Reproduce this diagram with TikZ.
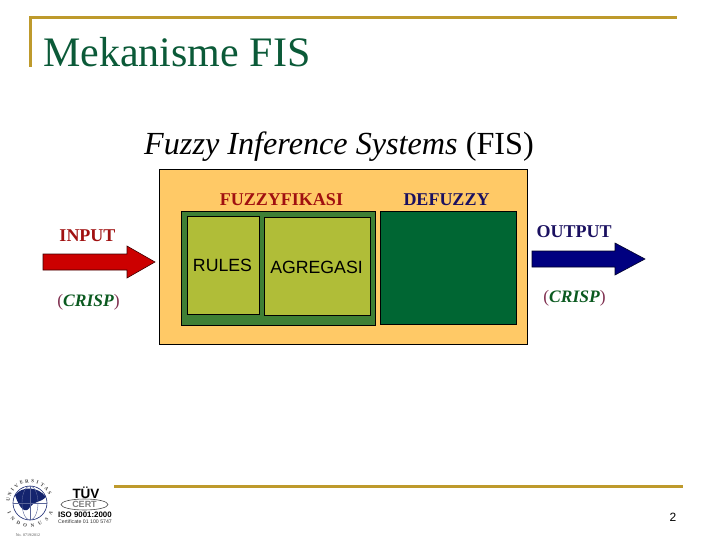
\documentclass[tikz,border=0pt]{standalone}
\usepackage{fontspec}
\usetikzlibrary{calc}
\setmainfont{Liberation Serif}
\newfontfamily\arialf{Liberation Sans}
\definecolor{gold}{HTML}{BE9A2C}
\definecolor{titleg}{HTML}{0B5A38}
\definecolor{orangebox}{HTML}{FFC966}
\definecolor{midgreen}{HTML}{3F7F35}
\definecolor{olive}{HTML}{B0BD38}
\definecolor{deepgreen}{HTML}{006633}
\definecolor{redarrow}{HTML}{CC0000}
\definecolor{navyarrow}{HTML}{000080}
\definecolor{redtext}{HTML}{A01010}
\definecolor{navytext}{HTML}{1A1060}
\definecolor{crispg}{HTML}{0B5A20}
\definecolor{paren}{HTML}{803050}
\definecolor{globe}{HTML}{14246E}
\tikzset{
  px/.style={x=1pt,y=-1pt},
  goldline/.style={gold,line width=3pt},
  panel/.style={draw=black,line width=0.8pt,inner sep=0pt,anchor=north west},
  lbl/.style={inner sep=0pt,anchor=center},
  logoletter/.style={inner sep=0pt,font=\bfseries\fontsize{5}{5}\selectfont,text=black!75},
}
\newcommand{\crisp}{{\color{paren}(}\textcolor{crispg}{\textit{\textbf{CRISP}}}{\color{paren})}}
\begin{document}
\begin{tikzpicture}[px]
\useasboundingbox (0,0) rectangle (720,540);
% frame lines
\coordinate (tl) at (30,18); \coordinate (tr) at (677,18); \coordinate (lb) at (30,67);
\draw[goldline,line cap=butt] (lb) -- (tl) -- (tr);
\coordinate (bl) at (114,486); \coordinate (br) at (683,486);
\draw[goldline] (bl) -- (br);
% titles
\node[lbl,anchor=west,text=titleg,font=\fontsize{42}{46}\selectfont] (title) at (43,52) {Mekanisme FIS};
\node[lbl,anchor=west,font=\fontsize{32.2}{36}\selectfont] (sub) at (144,146.5) {\textit{Fuzzy Inference Systems} (FIS)};
% panels
\node[panel,fill=orangebox,minimum width=368pt,minimum height=175pt] (outer) at (159,169) {};
\node[panel,fill=midgreen,minimum width=194pt,minimum height=113.5pt] (fuzz) at (181,211) {};
\node[panel,fill=olive,minimum width=72pt,minimum height=98pt] (rules) at (187,216) {};
\node[panel,fill=olive,minimum width=106pt,minimum height=97.5pt] (agr) at (264,217.5) {};
\node[panel,fill=deepgreen,minimum width=136pt,minimum height=112.5pt] (defz) at (380,211) {};
% panel labels
\node[lbl,text=redtext,font=\fontsize{18}{20}\selectfont\bfseries] (lf) at (281.5,199.5) {FUZZYFIKASI};
\node[lbl,text=navytext,font=\fontsize{18}{20}\selectfont\bfseries] (ld) at (446.5,200) {DEFUZZY};
\node[lbl,font=\arialf\fontsize{17.7}{20}\selectfont] (lr) at (222.5,265.5) {RULES};
\node[lbl,font=\arialf\fontsize{17.7}{20}\selectfont] (la) at (316.5,267) {AGREGASI};
% arrows
\draw[fill=redarrow,draw=black!70!redarrow,line width=0.6pt] (43,254) -- (127,254) -- (127,246) -- (155,262) -- (127,278) -- (127,270) -- (43,270) -- cycle;
\draw[fill=navyarrow,draw=black!70!navyarrow,line width=0.6pt] (532,251) -- (615,251) -- (615,243) -- (645,259) -- (615,275) -- (615,267) -- (532,267) -- cycle;
% side labels
\node[lbl,text=redtext,font=\fontsize{18}{20}\selectfont\bfseries] (in) at (87.5,235.5) {INPUT};
\node[lbl,font=\fontsize{17.5}{20}\selectfont] (cin) at (88.5,302) {\crisp};
\node[lbl,text=navytext,font=\fontsize{18}{20}\selectfont\bfseries] (out) at (574,232) {OUTPUT};
\node[lbl,font=\fontsize{17.5}{20}\selectfont] (cout) at (574.5,298) {\crisp};
% page number
\node[lbl,font=\arialf\fontsize{12}{14}\selectfont] (pg) at (673,517) {2};
% university logo
\coordinate (g) at (30,503);
\draw[globe,line width=0.6pt] (g) circle (17);
\fill[globe] (15,495) .. controls (22,486) and (38,486) .. (46,497) .. controls (40,503) and (34,501) .. (30,507) .. controls (26,514) and (20,510) .. (15,495) -- cycle;
\draw[globe!70,line width=0.4pt] (13,503) -- (47,503) (30,486) -- (30,520);
\draw[globe!70,line width=0.4pt] (30,503) ellipse (8 and 17);
\foreach \c/\a in {U/172,N/157,I/143,V/128,E/113,R/98,S/83,I/70,T/56,A/41,S/26}
  \node[logoletter,rotate=\a-90] at ($(g)+(\a:22 and -22)$) {\c};
\foreach \c/\a in {I/205,N/222,D/240,O/258,N/276,U/296,S/316,A/334}
  \node[logoletter,rotate=\a+90] at ($(g)+(\a:23 and -23)$) {\c};
\node[lbl,font=\fontsize{4}{5}\selectfont,text=black!70] (reg) at (28,535) {No. 0719/2012};
% TUV logo
\node[lbl,font=\arialf\bfseries\fontsize{13.5}{15}\selectfont] (tuv) at (86,492.5) {TÜV};
\draw[black!70,line width=0.6pt] (84.5,504.5) ellipse (23.5 and 5.5);
\node[lbl,font=\arialf\bfseries\fontsize{9}{9}\selectfont,text=black!50,fill=white,inner sep=0.5pt] (cert) at (84.5,504.5) {CERT};
\node[lbl,font=\arialf\bfseries\fontsize{7.9}{8}\selectfont] (iso) at (85,515) {ISO 9001:2000};
\node[lbl,font=\arialf\fontsize{5.2}{5.5}\selectfont,text=black!80] (cnum) at (85,521.5) {Certificate 01 100 5747};
\end{tikzpicture}
\end{document}
